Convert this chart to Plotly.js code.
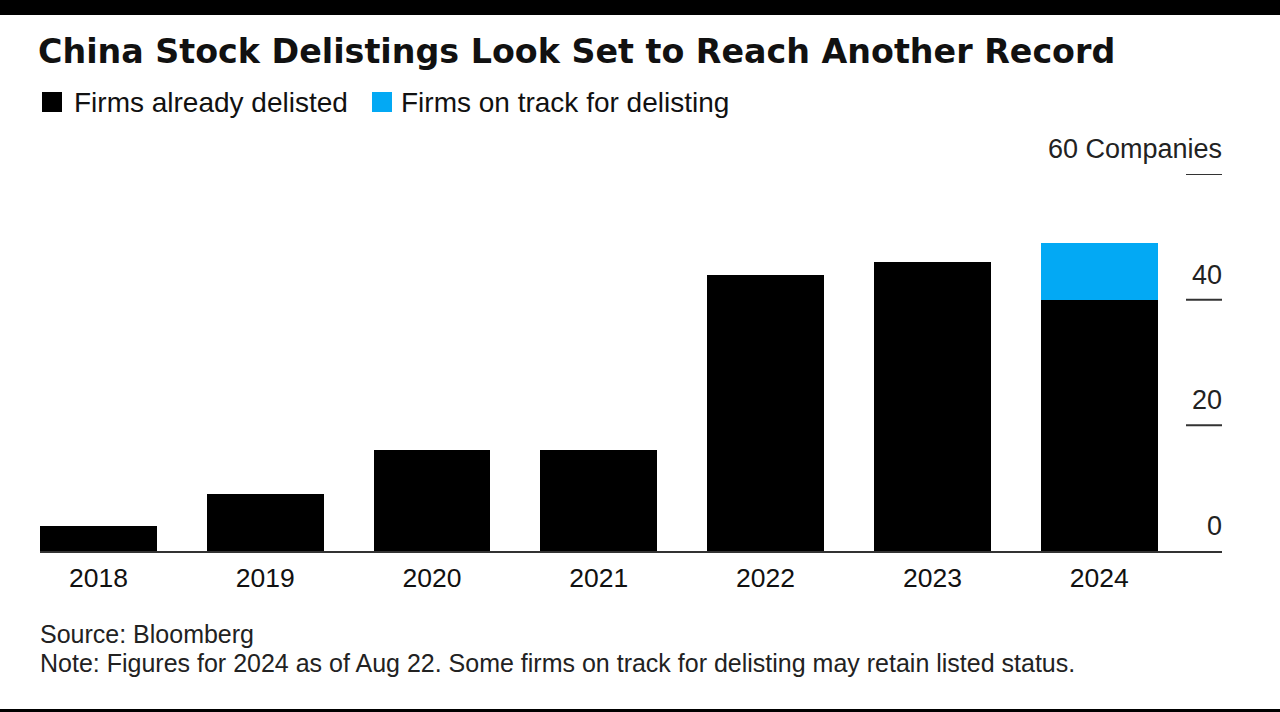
<!DOCTYPE html>
<html>
<head>
<meta charset="utf-8">
<script src="https://cdn.plot.ly/plotly-3.0.1.min.js"></script>
<style>html,body{margin:0;padding:0;background:#fff;}#chart{width:1280px;height:712px;}</style>
</head>
<body>
<div id="chart"></div>
<script>
const years = ["2018","2019","2020","2021","2022","2023","2024"];
const delisted = [4, 9, 16, 16, 44, 46, 40];
const onTrack = [0, 0, 0, 0, 0, 0, 9];
const yTickVals = [0, 20, 40, 60];
const yTickText = ["0", "20", "40", "60 Companies"];
const seriesNames = ["Firms already delisted", "Firms on track for delisting"];
const seriesColors = ["#000000", "#03a9f4"];

const W = 1280, H = 712;
const L = 40, R = 1222, T = 174, B = 551;
const px = x => (x - L) / (R - L);
const py = y => (B - y) / (B - T);
const FONT = "Liberation Sans, Arial, Helvetica, sans-serif";
const TITLE_FONT = "DejaVu Sans, Liberation Sans, Arial, sans-serif";

const traces = [
  {type: "bar", x: years, y: delisted, name: seriesNames[0], marker: {color: seriesColors[0]}, hoverinfo: "x+y+name"},
  {type: "bar", x: years, y: onTrack, name: seriesNames[1], marker: {color: seriesColors[1]}, hoverinfo: "x+y+name"}
];

const shapes = [
  // top black band
  {type: "rect", xref: "paper", yref: "paper", x0: px(-5), x1: px(W + 5), y0: py(0 - 5), y1: py(15), fillcolor: "#000", line: {width: 0}},
  // bottom black line
  {type: "rect", xref: "paper", yref: "paper", x0: px(-5), x1: px(W + 5), y0: py(709), y1: py(H + 5), fillcolor: "#000", line: {width: 0}},
  // legend squares
  {type: "rect", xref: "paper", yref: "paper", x0: px(42), x1: px(62), y0: py(112), y1: py(92), fillcolor: seriesColors[0], line: {width: 0}},
  {type: "rect", xref: "paper", yref: "paper", x0: px(372), x1: px(392), y0: py(112), y1: py(92), fillcolor: seriesColors[1], line: {width: 0}}
];
yTickVals.slice(1).forEach(v => {
  shapes.push({type: "line", xref: "paper", yref: "y", x0: px(1186), x1: 1, y0: v, y1: v, line: {color: "#333", width: 2}});
});

const annotations = [
  {xref: "paper", yref: "paper", x: px(72), y: py(102), xanchor: "left", yanchor: "middle", text: seriesNames[0], showarrow: false, font: {family: FONT, size: 28, color: "#111"}},
  {xref: "paper", yref: "paper", x: px(399), y: py(102), xanchor: "left", yanchor: "middle", text: seriesNames[1], showarrow: false, font: {family: FONT, size: 28, color: "#111"}},
  {xref: "paper", yref: "paper", x: px(38), y: py(634), xanchor: "left", yanchor: "middle", text: "Source: Bloomberg", showarrow: false, font: {family: FONT, size: 25, color: "#222"}},
  {xref: "paper", yref: "paper", x: px(38), y: py(663), xanchor: "left", yanchor: "middle", text: "Note: Figures for 2024 as of Aug 22. Some firms on track for delisting may retain listed status.", showarrow: false, font: {family: FONT, size: 25, color: "#222"}}
];
yTickVals.forEach((v, i) => {
  annotations.push({xref: "paper", yref: "y", x: 1, y: v, xanchor: "right", yanchor: "bottom", xshift: 2, yshift: 8, text: yTickText[i], showarrow: false, font: {family: FONT, size: 27, color: "#222"}});
});

const layout = {
  width: W, height: H,
  paper_bgcolor: "#fff", plot_bgcolor: "#fff",
  margin: {l: L, r: W - R, t: T, b: H - B, pad: 0},
  barmode: "stack",
  bargap: 0.3,
  showlegend: false,
  title: {text: "<b>China Stock Delistings Look Set to Reach Another Record</b>", xref: "container", yref: "container", x: 38 / W, xanchor: "left", y: 1 - 51 / H, yanchor: "middle", font: {family: TITLE_FONT, size: 33.3, color: "#111"}},
  xaxis: {type: "category", range: [-0.35, -0.35 + (R - L) / 166.8], showline: true, linecolor: "#333", linewidth: 2, ticks: "", ticklabelstandoff: 2, showgrid: false, zeroline: false, tickfont: {family: FONT, size: 26.5, color: "#111"}, fixedrange: true},
  yaxis: {range: [0, 60], showticklabels: false, showgrid: false, zeroline: false, ticks: "", showline: false, fixedrange: true},
  shapes: shapes,
  annotations: annotations
};

Plotly.newPlot("chart", traces, layout, {displayModeBar: false, staticPlot: true});
</script>
</body>
</html>
